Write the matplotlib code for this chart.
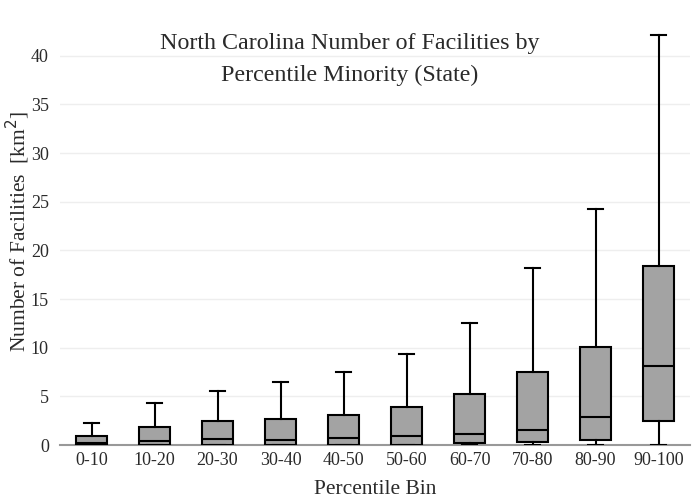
import matplotlib.pyplot as plt

# Percentile bins and box statistics
bins = ['0-10', '10-20', '20-30', '30-40', '40-50', '50-60', '60-70', '70-80', '80-90', '90-100']
lower_whisker = [0, 0, 0, 0, 0, 0, 0, 0, 0, 0]
q1 = [0, 0, 0, 0, 0, 0, 0.17, 0.3, 0.55, 2.5]
median = [0.25, 0.38, 0.58, 0.51, 0.69, 0.96, 1.13, 1.58, 2.91, 8.16]
q3 = [0.96, 1.88, 2.47, 2.71, 3.12, 3.91, 5.24, 7.5, 10.04, 18.4]
upper_whisker = [2.23, 4.35, 5.52, 6.51, 7.5, 9.39, 12.58, 18.2, 24.3, 42.16]

plt.rcParams['font.family'] = ['Liberation Serif', 'DejaVu Serif']
txt = '#2a2a2a'

stats = []
for i in range(len(bins)):
    stats.append({'label': bins[i], 'whislo': lower_whisker[i], 'q1': q1[i],
                  'med': median[i], 'q3': q3[i], 'whishi': upper_whisker[i]})

fig = plt.figure(figsize=(7, 5), dpi=100)
ax = fig.add_axes([60 / 700, 55 / 500, 630 / 700, 432 / 500])

line = dict(color='black', linewidth=1.5)
ax.bxp(stats, positions=range(len(bins)), widths=0.5, capwidths=0.25,
       showfliers=False, patch_artist=True,
       boxprops=dict(facecolor='#a3a3a3', edgecolor='black', linewidth=1.5),
       medianprops=line, whiskerprops=line, capprops=line, zorder=3)

ax.set_xlim(-0.5, 9.5)
ax.set_ylim(0, 44.4)
ax.set_yticks(range(0, 45, 5))
ax.set_xticks(range(len(bins)))
ax.set_xticklabels(bins)
ax.grid(axis='y', color='#eeeeee', linewidth=1, zorder=0)
ax.set_axisbelow(True)
for s in ['top', 'right', 'left']:
    ax.spines[s].set_visible(False)
ax.spines['bottom'].set_color('#999999')
ax.spines['bottom'].set_linewidth(1.5)
ax.tick_params(length=0, labelsize=13, colors=txt, pad=5)
ax.tick_params(axis='y', pad=8)

ax.set_xlabel('Percentile Bin', fontsize=15.5, color=txt, labelpad=8)
fig.text(18 / 700, 1 - 231 / 500, 'Number of Facilities  [km$^2$]', rotation=90,
         ha='center', va='center', fontsize=15.5, color=txt)

fig.text(0.5, 1 - 43 / 500, 'North Carolina Number of Facilities by', ha='center', va='center',
         fontsize=17.3, color=txt)
fig.text(0.5, 1 - 75 / 500, 'Percentile Minority (State)', ha='center', va='center',
         fontsize=17.3, color=txt)

fig.savefig('out.png', dpi=100)
